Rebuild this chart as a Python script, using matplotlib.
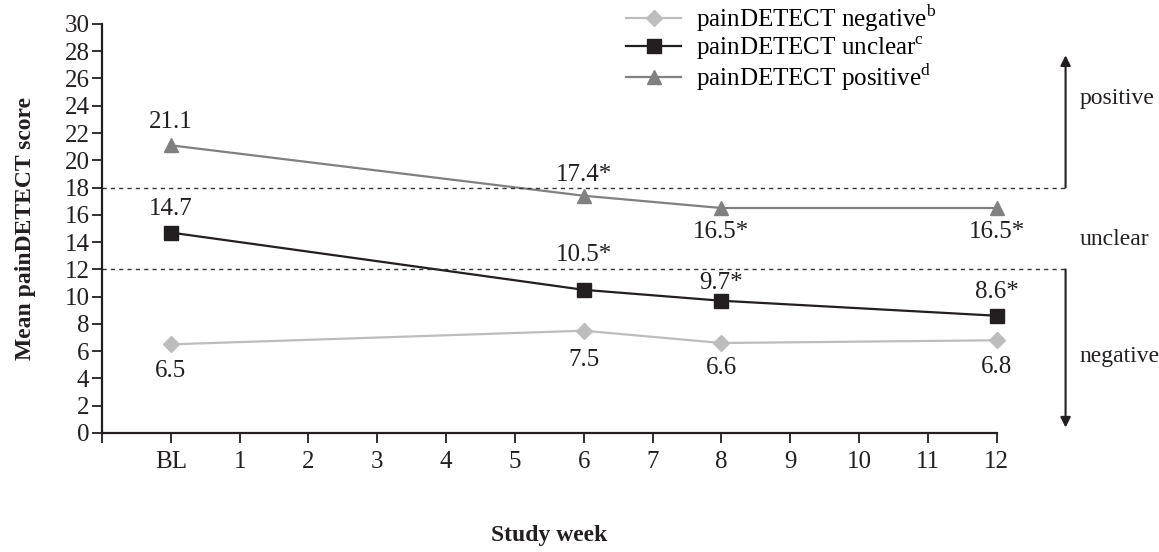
import matplotlib.pyplot as plt
import matplotlib as mpl

plt.rcParams['font.family'] = ['Liberation Serif', 'DejaVu Serif']
plt.rcParams['mathtext.fontset'] = 'custom'
plt.rcParams['mathtext.rm'] = 'Liberation Serif'

# data
weeks = [0, 6, 8, 12]
negative = [6.5, 7.5, 6.6, 6.8]
unclear = [14.7, 10.5, 9.7, 8.6]
positive = [21.1, 17.4, 16.5, 16.5]

neg_labels = ['6.5', '7.5', '6.6', '6.8']
unc_labels = ['14.7', '10.5*', '9.7*', '8.6*']
pos_labels = ['21.1', '17.4*', '16.5*', '16.5*']

# label offsets in points (above / below the marker)
neg_off = [-19, -21, -18, -19]
unc_off = [17, 25, 13, 17]
pos_off = [17, 15, -17, -17]

tick_pos = list(range(-1, 13))
tick_labels = [''] + ['BL'] + [str(i) for i in range(1, 13)]

c_neg = '#bdbdbd'
c_unc = '#231f20'
c_pos = '#808080'

fig = plt.figure(figsize=(11.59, 5.52), dpi=100)
ax = fig.add_axes([0.088, 0.2156, 0.772, 0.741])

ax.plot(weeks, negative, color=c_neg, marker='D', markersize=8, lw=1.6,
        clip_on=False, label='painDETECT negative$^{\\mathrm{b}}$')
ax.plot(weeks, unclear, color=c_unc, marker='s', markersize=10, lw=1.6,
        clip_on=False, label='painDETECT unclear$^{\\mathrm{c}}$')
ax.plot(weeks, positive, color=c_pos, marker='^', markersize=10, lw=1.6,
        clip_on=False, label='painDETECT positive$^{\\mathrm{d}}$')

for vals, labs, offs in [(negative, neg_labels, neg_off),
                         (unclear, unc_labels, unc_off),
                         (positive, pos_labels, pos_off)]:
    for x, y, s, o in zip(weeks, vals, labs, offs):
        ax.annotate(s, (x, y), xytext=(0, o), textcoords='offset points',
                    ha='center', va='center', fontsize=18, color='#231f20')

# threshold lines and side arrows
for yv in [12, 18]:
    ax.plot([-1, 13], [yv, yv], ls=(0, (3, 3)), color='#333333', lw=1.0,
            clip_on=False)
ax.annotate('', xy=(13, 27.7), xytext=(13, 18), annotation_clip=False,
            arrowprops=dict(arrowstyle='-|>', color='#231f20', lw=1.5,
                            mutation_scale=15, shrinkA=0, shrinkB=0))
ax.annotate('', xy=(13, 0.4), xytext=(13, 12), annotation_clip=False,
            arrowprops=dict(arrowstyle='-|>', color='#231f20', lw=1.5,
                            mutation_scale=15, shrinkA=0, shrinkB=0))
ax.text(13.2, 24.5, 'positive', fontsize=17, va='center', ha='left',
        color='#231f20', clip_on=False)
ax.text(13.2, 14.2, 'unclear', fontsize=17, va='center', ha='left',
        color='#231f20', clip_on=False)
ax.text(13.2, 5.6, 'negative', fontsize=17, va='center', ha='left',
        color='#231f20', clip_on=False)

ax.set_xlim(-1, 12)
ax.set_ylim(0, 30)
ax.set_xticks(tick_pos)
ax.set_xticklabels(tick_labels)
ax.set_yticks(range(0, 31, 2))
ax.tick_params(axis='both', labelsize=18, colors='#231f20', length=7,
               width=1.3, direction='out')
ax.tick_params(axis='x', pad=6)
ax.tick_params(axis='y', pad=2)
for s in ['top', 'right']:
    ax.spines[s].set_visible(False)
for s in ['left', 'bottom']:
    ax.spines[s].set_linewidth(1.6)
    ax.spines[s].set_color('#231f20')

ax.set_ylabel('Mean painDETECT score', fontsize=17, fontweight='bold',
              color='#231f20')
ax.yaxis.set_label_coords(-0.074, 0.5)
ax.set_xlabel('Study week', fontsize=17, fontweight='bold', color='#231f20')
ax.xaxis.set_label_coords(0.5, -0.225)

fig.legend(loc='upper left', bbox_to_anchor=(0.521, 1.035), frameon=False,
           fontsize=18, handlelength=2.2, labelspacing=0.02, handletextpad=0.6)

plt.savefig('out.png', dpi=100)
